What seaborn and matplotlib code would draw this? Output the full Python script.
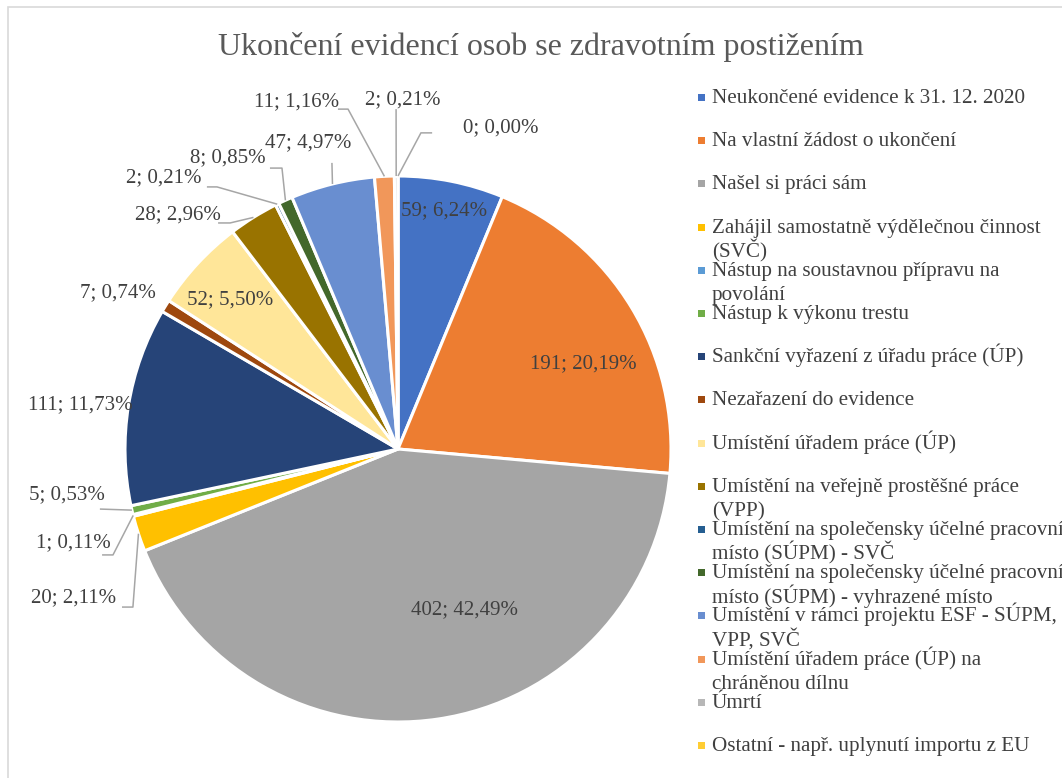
import matplotlib
matplotlib.use("Agg")
import matplotlib.pyplot as plt
import seaborn as sns
import numpy as np
from matplotlib.patches import Rectangle

# ---------------- data ----------------
categories = [
    "Neukončené evidence k 31. 12. 2020",
    "Na vlastní žádost o ukončení",
    "Našel si práci sám",
    "Zahájil samostatně výdělečnou činnost\n(SVČ)",
    "Nástup na soustavnou přípravu na\npovolání",
    "Nástup k výkonu trestu",
    "Sankční vyřazení z úřadu práce (ÚP)",
    "Nezařazení do evidence",
    "Umístění úřadem práce (ÚP)",
    "Umístění na veřejně prostěšné práce\n(VPP)",
    "Umístění na společensky účelné pracovní\nmísto (SÚPM) - SVČ",
    "Umístění na společensky účelné pracovní\nmísto (SÚPM) - vyhrazené místo",
    "Umístění v rámci projektu ESF - SÚPM,\nVPP, SVČ",
    "Umístění úřadem práce (ÚP) na\nchráněnou dílnu",
    "Úmrtí",
    "Ostatní - např. uplynutí importu z EU",
]
values = [59, 191, 402, 20, 1, 5, 111, 7, 52, 28, 2, 8, 47, 11, 2, 0]
percent_labels = ["6,24%", "20,19%", "42,49%", "2,11%", "0,11%", "0,53%",
                  "11,73%", "0,74%", "5,50%", "2,96%", "0,21%", "0,85%",
                  "4,97%", "1,16%", "0,21%", "0,00%"]
colors = ["#4472C4", "#ED7D31", "#A5A5A5", "#FFC000", "#5B9BD5", "#70AD47",
          "#264478", "#9E480E", "#FFE699", "#997300", "#255E91", "#43682B",
          "#698ED0", "#F1975A", "#B7B7B7", "#FFCD33"]
title = "Ukončení evidencí osob se zdravotním postižením"

# ---------------- layout (in pie-radius units) ----------------
label_pos = [(0.168, 0.872), (0.678, 0.311), (0.245, -0.590), (-1.190, -0.546),
             (-1.190, -0.344), (-1.212, -0.168), (-1.165, 0.161), (-1.026, 0.571),
             (-0.615, 0.546), (-0.806, 0.857), (-0.857, 0.993), (-0.623, 1.066),
             (-0.330, 1.121), (-0.370, 1.271), (0.018, 1.278), (0.377, 1.176)]
# leader line: [text-side point, elbow point] -> then to wedge edge
leaders = {
    3: [(-1.011, -0.579), (-0.971, -0.579)],
    4: [(-1.084, -0.388), (-1.044, -0.388)],
    5: [(-1.092, -0.220)],
    9: [(-0.659, 0.828), (-0.615, 0.828)],
    10: [(-0.700, 0.960), (-0.663, 0.960)],
    11: [(-0.469, 1.029), (-0.425, 1.029)],
    12: [(-0.242, 1.048)],
    13: [(-0.220, 1.245), (-0.183, 1.245)],
    14: [(-0.007, 1.245)],
    15: [(0.125, 1.158), (0.084, 1.158)],
}

W, H = 1062, 778
CX, CY, R = 398, 449, 273

sns.set_theme(style="white")
plt.rcParams["font.family"] = ["Liberation Serif", "DejaVu Serif"]

fig = plt.figure(figsize=(W / 100, H / 100), dpi=100)
ax = fig.add_axes([0, 0, 1, 1])

wedges, _ = ax.pie(values, colors=colors, startangle=90, counterclock=False,
                   radius=1, center=(0, 0),
                   wedgeprops=dict(edgecolor="white", linewidth=2.2))
ax.set_aspect("auto")
ax.set_xlim(-CX / R, (W - CX) / R)
ax.set_ylim(-(H - CY) / R, CY / R)
ax.axis("off")

def px(x, y):
    return ((x - CX) / R, (CY - y) / R)

total = float(sum(values))
cum = np.cumsum(values)
label_color = "#404040"
for i, v in enumerate(values):
    mid = 90 - 360 * (cum[i] - v / 2) / total
    t = np.deg2rad(mid)
    edge = (np.cos(t), np.sin(t))
    lx, ly = label_pos[i]
    ax.text(lx, ly, f"{v}; {percent_labels[i]}", ha="center", va="center",
            fontsize=15, color=label_color)
    if i in leaders:
        pts = leaders[i] + [edge]
        xs = [p[0] for p in pts]
        ys = [p[1] for p in pts]
        ax.plot(xs, ys, color="#A6A6A6", lw=1.1, solid_capstyle="butt")

# title
tx, ty = px(541, 47)
ax.text(tx, ty, title, ha="center", va="center", fontsize=23, color="#595959")

# legend (manual, Excel-like fixed row pitch)
for i, cat in enumerate(categories):
    yc = 97 + 43.2 * i
    mx, my = px(698, yc + 4)
    ax.add_patch(Rectangle((mx, my), 7 / R, 7 / R, color=colors[i], lw=0))
    for k, line in enumerate(cat.split("\n")):
        tx, ty = px(712, yc + 6 + 24.5 * k)
        ax.text(tx, ty, line, ha="left", va="baseline", fontsize=15.2,
                color=label_color, clip_on=False)

# chart border
bx, by = px(8, 7)
ax.add_patch(Rectangle((bx, -(H - CY) / R - 0.1), (W - 8) / R + 0.2, by + (H - CY) / R + 0.1,
                       fill=False, edgecolor="#D9D9D9", lw=1.2, clip_on=False))

fig.savefig("out.png", dpi=100, facecolor="white")
